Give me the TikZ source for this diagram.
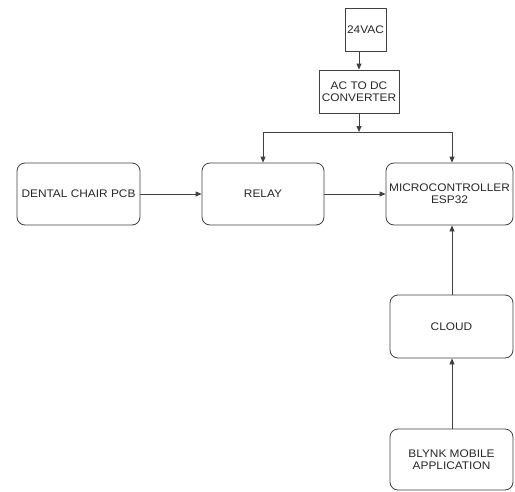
\documentclass[tikz,border=0pt]{standalone}
\usepackage{fontspec}
\setmainfont[FakeStretch=1.08]{Liberation Sans}
\usetikzlibrary{arrows.meta}
\begin{document}
\begin{tikzpicture}[x=1pt,y=-1pt,
  every node/.style={font=\fontsize{11}{12}\selectfont, text=black!85, align=center, inner sep=0pt},
  sq/.style={draw=black!75, line width=0.8pt},
  rbox/.style={draw=black!75, line width=0.8pt, rounded corners=8pt},
  conn/.style={draw=black!75, line width=0.8pt},
  arr/.style={conn, -{Triangle[length=6pt,width=5pt]}}]
\useasboundingbox (0,0) rectangle (515,491);
\node[sq, minimum width=41pt, minimum height=43pt] (vac) at (365.5,29.5) {24VAC};
\node[sq, minimum width=80pt, minimum height=43pt] (acdc) at (359,91.5) {AC TO DC\\CONVERTER};
\node[rbox, minimum width=123pt, minimum height=62pt] (pcb) at (78.5,194) {DENTAL CHAIR PCB};
\node[rbox, minimum width=122pt, minimum height=62pt] (relay) at (263,194) {RELAY};
\node[rbox, minimum width=127pt, minimum height=62pt] (mcu) at (449.5,194) {MICROCONTROLLER\\ESP32};
\node[rbox, minimum width=123pt, minimum height=63pt] (cloud) at (451.5,326.5) {CLOUD};
\node[rbox, minimum width=123pt, minimum height=61pt] (blynk) at (451.5,459.5) {BLYNK MOBILE\\APPLICATION};
\coordinate (j) at (359,132);
\coordinate (jl) at (263,132);
\coordinate (jr) at (452,132);
\draw[arr] (acdc.north |- vac.south) -- (acdc.north);
\draw[arr] (acdc.south) -- (j);
\draw[arr] (jl) -- (jl |- relay.north);
\draw[arr] (jl) -- (jr) -- (jr |- mcu.north);
\draw[arr] (pcb.east) -- (relay.west);
\draw[arr] (relay.east) -- (mcu.west);
\draw[arr] (cloud.north -| jr) -- (jr |- mcu.south);
\draw[arr] (blynk.north -| jr) -- (jr |- cloud.south);
\end{tikzpicture}
\end{document}
